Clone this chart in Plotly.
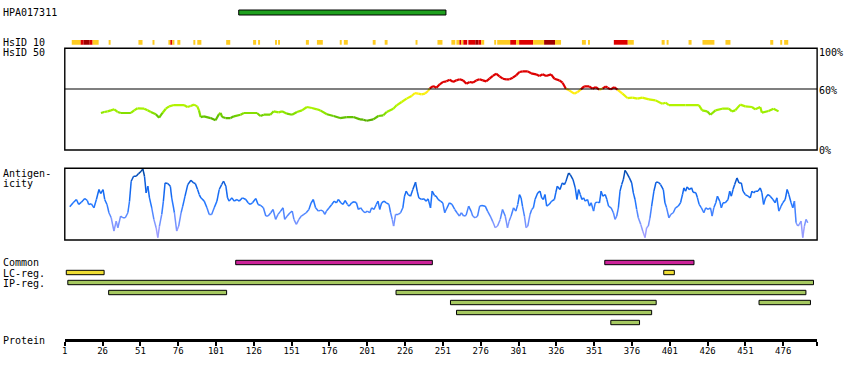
import plotly.graph_objects as go

W, H = 850, 380
PROTEIN_END = 498.4

# ---------------- data ----------------
hpa_start, hpa_end = 116, 253

hsid10_start = [5.6, 11.5, 13.5, 17.5, 19.4, 30.0, 49.7, 59.0, 69.5, 70.8, 72.1, 75.4, 86.0, 88.6,
                107.7, 125.5, 128.8, 140.0, 142.0, 160.4, 167.7, 182.8, 185.5, 204.6, 212.5, 232.9,
                247.4, 256.6, 259.9, 261.9, 263.2, 264.5, 267.8, 272.4, 274.4, 276.4, 284.9, 286.9,
                295.5, 299.4, 301.4, 310.6, 317.9, 325.1, 342.9, 346.9, 364.0, 373.2, 395.6, 398.9,
                413.4, 422.6, 437.8, 467.4, 474.0, 476.6]
hsid10_end = [11.5, 13.5, 17.5, 19.4, 23.4, 31.3, 52.4, 60.3, 70.8, 72.1, 73.5, 77.4, 87.3, 91.3,
              110.4, 127.5, 130.1, 141.3, 143.3, 162.4, 171.6, 184.1, 188.1, 206.5, 214.4, 234.2,
              250.7, 259.2, 261.9, 263.2, 264.5, 267.1, 272.4, 274.4, 276.4, 278.3, 286.2, 295.5,
              299.4, 301.4, 310.6, 317.9, 325.1, 329.1, 345.5, 348.2, 373.2, 377.2, 397.6, 400.2,
              415.4, 430.5, 441.1, 469.4, 475.3, 479.3]
hsid10_level = [1, 2, 3, 2, 1, 1, 1, 1, 1, 2, 1,
                1, 1, 1, 1, 1, 1, 1, 1, 1, 1, 1, 1, 1, 1, 1, 1, 1, 1,
                2, 1, 2, 2, 3, 2, 1, 1, 1, 2, 1, 2, 1, 3, 1,
                1, 1, 2, 1, 1, 1, 1, 1, 1, 1, 1, 1]

hsid50_pos = [24.9, 27.1, 29.3, 31.5, 33.7, 35.9, 38.1, 44.7, 46.9, 49.1, 53.5, 55.7, 57.9, 61.2,
              63.4, 65.6, 67.8, 70.0, 73.2, 79.8, 82.0, 84.2, 86.4, 88.6, 89.7, 90.8, 93.0, 97.4,
              100.7, 102.9, 104.0, 105.1, 107.3, 110.6, 112.8, 117.2, 119.4, 128.1, 130.3, 132.5,
              136.9, 139.1, 142.4, 144.6, 147.9, 151.2, 154.5, 157.8, 161.1, 164.4, 167.7, 169.9,
              174.3, 178.7, 183.0, 187.4, 191.8, 196.2, 198.4, 200.6, 205.0, 208.3, 211.6, 213.8,
              218.2, 220.4, 223.7, 227.0, 230.3, 232.5, 234.7, 236.9, 239.1, 241.2, 242.3, 244.5,
              246.7, 248.9, 251.1, 253.3, 255.5, 257.7, 259.9, 262.1, 264.3, 266.5, 268.7, 270.9,
              273.1, 275.2, 277.4, 279.6, 281.8, 284.0, 286.2, 288.4, 290.6, 292.8, 295.0, 297.2,
              299.4, 301.6, 303.8, 307.1, 309.3, 312.6, 314.8, 317.0, 319.2, 322.5, 324.7, 328.0,
              330.1, 332.3, 334.5, 337.8, 340.0, 342.2, 344.4, 347.7, 349.9, 352.1, 354.3, 356.5,
              358.7, 359.8, 362.0, 364.2, 366.4, 369.7, 373.0, 376.3, 379.6, 382.8, 387.2, 391.6,
              396.0, 398.2, 400.4, 411.4, 420.2, 422.4, 425.7, 427.9, 431.2, 435.6, 440.0, 442.1,
              444.3, 447.6, 450.9, 455.3, 457.5, 460.8, 461.9, 466.3, 469.6, 472.9]
hsid50_val = [36.4, 37.4, 38.0, 39.0, 40.0, 37.4, 36.4, 36.4, 39.0, 41.0, 40.6, 39.0, 37.4, 35.1,
              31.8, 36.4, 40.6, 42.9, 44.2, 44.2, 42.3, 43.3, 44.6, 42.9, 39.0, 32.4, 33.1, 31.4,
              29.2, 35.1, 36.4, 32.4, 31.4, 31.4, 33.1, 34.7, 36.4, 36.4, 33.4, 34.7,
              34.7, 38.0, 37.0, 38.0, 35.7, 34.7, 37.4, 39.0, 42.3, 41.3, 40.0, 39.0,
              35.1, 33.4, 31.4, 32.4, 32.4, 30.1, 29.8, 28.8, 30.1, 33.4, 34.1, 37.4,
              40.6, 43.9, 47.2, 50.5, 53.1, 56.0, 55.4, 54.7, 55.4, 58.0, 60.6, 62.9,
              61.3, 64.6, 66.9, 67.5, 69.1, 66.9, 68.5, 69.5, 68.5, 65.2, 66.9, 66.2,
              68.5, 69.5, 68.5, 67.5, 70.1, 72.8, 75.0, 72.4, 70.1, 69.5, 69.5, 71.1,
              73.4, 76.7, 77.3, 77.3, 75.4, 74.4, 72.8, 74.4, 72.8, 74.4, 70.1, 68.5,
              66.2, 60.3, 58.7, 55.4, 57.0, 59.6, 62.6, 62.6, 60.3, 61.9, 59.3, 60.3,
              62.6, 61.3, 59.6, 61.9, 59.3, 55.4, 51.1, 51.5, 50.5, 51.5, 49.8, 48.8,
              45.5, 46.5, 44.2, 44.2, 44.2, 39.0, 38.0, 34.7, 39.0, 40.6, 40.6, 38.0,
              39.0, 44.6, 42.9, 42.3, 40.0, 42.3, 36.7, 38.3, 40.6, 38.0]

antigen_pos = [4.3, 6.5, 8.7, 10.2, 12.0, 14.2, 15.9, 16.8, 18.6, 20.3, 21.9, 23.6, 24.7, 26.3,
               27.4, 28.9, 30.2, 31.7, 33.5, 35.0, 36.1, 37.9, 39.4, 41.0, 42.7, 43.8, 44.9, 46.5,
               48.2, 49.8, 51.5, 52.6, 53.7, 54.8, 55.9, 57.0, 58.5, 59.9, 61.4, 62.5, 63.6, 65.1,
               66.2, 67.3, 69.1, 70.8, 71.7, 73.5, 75.0, 76.3, 77.9, 79.0, 80.5, 82.3, 84.4, 86.2,
               87.3, 88.8, 89.9, 91.0, 93.2, 95.0, 96.5, 98.1, 99.8, 101.6, 103.1, 104.7, 106.0,
               107.5, 108.6, 109.7, 111.5, 113.0, 114.8, 116.3, 118.5, 120.7, 122.2, 123.5, 125.1,
               127.3, 128.8, 130.6, 132.3, 133.9, 135.4, 137.2, 138.7, 140.4, 142.0, 143.7, 145.3,
               146.4, 148.1, 149.9, 151.4, 152.5, 154.1, 155.8, 157.4, 159.1, 160.6, 162.4, 163.9,
               165.3, 166.8, 168.6,
               170.3, 171.8, 172.9, 174.0, 175.8, 177.5, 179.1, 180.6, 181.9, 183.5, 185.0, 186.3,
               187.9, 189.0, 190.7, 192.3, 193.8, 195.1, 196.6, 198.2, 199.5, 201.0, 202.6, 203.9,
               205.4, 207.0, 208.1, 209.2, 210.5, 212.0, 213.6, 215.3, 216.4, 217.5, 218.4, 219.7,
               221.5, 223.0, 224.5, 225.6, 226.7, 228.0, 229.6, 231.1, 232.9, 234.0, 235.1, 236.8,
               238.4, 239.9, 241.2, 242.8, 243.9, 245.4, 246.5, 247.8, 249.4, 250.9, 252.2, 253.7,
               255.3, 257.0, 258.8, 260.3, 261.9, 263.2, 264.7, 266.3, 268.0, 269.6, 270.7, 272.4,
               273.9, 275.3, 276.8, 279.0, 280.5, 282.3, 283.8, 285.6, 287.1, 288.9, 290.4, 292.2,
               293.7, 294.8, 296.1, 297.7, 299.2, 300.5, 301.6, 302.7, 303.6, 304.9, 306.0, 307.1,
               308.6, 309.7, 310.8, 311.9, 313.7, 315.2, 316.3, 317.4, 318.5, 319.6, 321.2, 322.9,
               324.7, 325.6, 326.6, 328.4, 329.9, 331.3, 332.4,
               333.0, 334.1, 335.2, 337.0, 338.5, 339.6, 340.7, 341.8, 342.9, 344.0, 345.1, 346.6,
               347.9, 349.0, 350.6, 351.7, 353.2, 354.5, 355.6, 356.7, 358.3, 359.4, 360.5, 362.2,
               363.7, 364.8, 365.9, 367.0, 368.1, 369.2, 370.3, 371.4, 372.5, 374.3, 375.8, 376.9,
               378.0, 379.1, 380.2, 381.8, 383.1, 384.6, 385.7, 386.8, 387.9, 389.0, 390.5, 391.9,
               393.4, 394.9, 396.7, 397.8, 398.9, 400.4, 401.7, 403.3, 404.8, 406.6, 408.1, 409.4,
               410.3, 411.4, 412.5, 413.8, 415.4, 416.4, 418.2, 419.3, 420.4, 421.9, 423.5, 424.8,
               426.3, 427.9, 429.0, 430.1, 431.4, 432.5, 434.0, 435.1, 436.2, 437.7, 439.5, 440.6,
               441.7, 442.8, 443.9, 445.4, 446.8, 448.3, 449.4, 450.9, 452.7, 454.2, 455.3, 456.4,
               457.7, 459.3, 460.8, 461.9, 463.0, 464.3, 465.9, 467.4, 469.2, 470.7, 471.8, 473.1,
               474.6, 475.7, 477.3, 478.6, 479.7, 481.2, 482.3, 483.4, 484.5, 485.6, 486.7, 487.8,
               488.9, 490.0, 491.1, 492.2]
antigen_val = [46.3, 51.9, 56.5, 49.6, 52.8, 57.9, 55.1, 49.6, 50.5, 44.9, 56.5, 70.4, 64.8, 70.4,
               56.5, 49.6, 38.0, 31.0, 12.5, 26.4, 17.1, 33.4, 31.0, 31.0, 38.0, 54.2, 82.0, 88.9,
               88.9, 92.6, 95.9, 99.1, 88.9, 65.8, 75.0, 58.8, 44.9, 28.7, 17.1, 3.3, 19.5, 35.7,
               54.2, 79.6, 78.7, 75.0, 58.8, 38.0, 12.5, 19.5, 38.0, 47.2, 61.1, 77.3, 83.4, 79.6,
               78.7, 70.4, 63.4, 58.8, 54.2, 44.9, 35.7, 35.7, 44.9, 54.2, 70.4, 77.3, 82.0,
               75.0, 58.8, 54.2, 58.8, 54.2, 56.5, 54.2, 58.8, 56.5, 51.9, 49.6, 51.9,
               57.9, 49.6, 48.2, 44.9, 33.4, 33.4, 38.0, 42.6, 28.7, 35.7, 40.3, 44.9,
               28.7, 33.4, 38.0, 40.3, 28.7, 21.8, 28.7, 33.4, 35.7, 38.0, 42.6, 51.9,
               56.5, 44.9, 40.3,
               41.7, 40.3, 35.7, 40.3, 44.9, 49.6, 54.2, 51.9, 56.5, 51.9, 49.6, 55.1,
               49.6, 47.2, 51.9, 53.3, 51.9, 42.6, 44.9, 40.3, 38.0, 40.3, 38.0, 44.9,
               42.6, 49.6, 54.2, 42.6, 51.9, 54.2, 51.9, 49.6, 38.0, 28.7, 19.5, 35.7,
               35.7, 38.0, 44.9, 61.1, 68.1, 63.4, 61.1, 70.4, 80.6, 68.1, 58.8, 56.5,
               57.4, 54.2, 57.4, 44.9, 68.1, 62.1, 61.1, 56.5, 54.2, 51.9, 38.0, 44.9,
               51.9, 49.6, 42.6, 38.0, 33.4, 38.0, 33.4, 34.3, 47.2, 40.3, 33.4, 31.0,
               33.4, 47.2, 48.2, 47.2, 40.3, 33.4, 26.4, 17.1, 19.5, 28.7, 42.6, 33.4,
               17.1, 26.4, 33.4, 44.9, 40.3, 49.6, 63.4, 58.8, 47.2, 33.4, 17.1, 19.5,
               35.7, 42.6, 44.9, 56.5, 65.8, 68.1, 58.8, 56.5, 63.4, 47.2, 49.6, 54.2,
               56.5, 65.8, 75.0, 70.4, 79.6, 77.3, 82.0,
               86.6, 93.5, 91.2, 84.3, 72.7, 56.5, 70.4, 63.4, 56.5, 58.8, 54.2, 56.5,
               47.2, 51.9, 40.3, 51.9, 52.8, 51.9, 68.1, 61.1, 63.4, 56.5, 47.2, 44.9,
               38.0, 28.7, 33.4, 44.9, 68.1, 77.3, 84.3, 97.2, 93.5, 86.6, 79.6, 65.8,
               56.5, 42.6, 31.0, 21.8, 12.5, 3.3, 17.1, 19.5, 31.0, 47.2, 68.1, 80.6,
               80.6, 77.3, 70.4, 51.9, 44.9, 31.0, 35.7, 38.0, 44.9, 47.2, 51.9, 63.4,
               72.7, 68.1, 74.1, 70.4, 72.7, 66.7, 65.8, 58.8, 49.6, 44.9, 38.0, 44.9,
               42.6, 44.9, 33.4, 44.9, 51.9, 61.1, 54.2, 44.9, 51.9, 51.9, 56.5, 68.1,
               61.1, 70.4, 77.3, 86.6, 79.6, 79.6, 68.1, 63.4, 61.1, 58.8, 68.1, 65.8,
               68.1, 68.1, 72.7, 65.8, 49.6, 58.8, 63.4, 61.1, 56.5, 51.9, 58.8, 40.3,
               47.2, 51.9, 56.5, 70.4, 63.4, 51.9, 44.9, 54.2, 24.1, 19.5, 21.8, 26.4,
               3.3, 19.5, 28.7, 24.1]

common_start = [114, 358]
common_end = [244, 417]
lc_start = [2, 397]
lc_end = [27, 404]
ip_start = [3, 30, 220, 256, 260, 362, 460]
ip_end = [496, 108, 491, 392, 389, 381, 494]

tick_vals = [1, 26, 51, 76, 101, 126, 151, 176, 201, 226, 251, 276, 301, 326, 351, 376, 401, 426, 451, 476]
tick_end = 498

# ---------------- helpers ----------------
FONT = "DejaVu Sans Mono"


def py(px):
    return 1 - px / H


def interp_color(v, stops):
    if v <= stops[0][0]:
        c = stops[0][1]
    elif v >= stops[-1][0]:
        c = stops[-1][1]
    else:
        for (a, ca), (b, cb) in zip(stops, stops[1:]):
            if a <= v <= b:
                t = (v - a) / (b - a)
                c = tuple(int(round(ca[i] + (cb[i] - ca[i]) * t)) for i in range(3))
                break
    return "#%02x%02x%02x" % c


HS_STOPS = [(28, (0x55, 0xaa, 0x00)), (33, (0x66, 0xc8, 0x00)), (38, (0x99, 0xee, 0x00)),
            (46, (0xbb, 0xf5, 0x00)), (52, (0xdd, 0xf5, 0x00)), (56, (0xff, 0xf0, 0x10)),
            (60, (0xff, 0xe0, 0x20))]
AG_STOPS = [(0, (0xb0, 0xa0, 0xff)), (20, (0x88, 0x99, 0xff)), (35, (0x55, 0x88, 0xff)),
            (50, (0x22, 0x77, 0xff)), (70, (0x10, 0x66, 0xee)), (85, (0x08, 0x55, 0xcc)),
            (100, (0x00, 0x44, 0x99))]


def hs_color(v):
    if v >= 60:
        return "#dd0000"
    return interp_color(round(v), HS_STOPS)


def ag_color(v):
    return interp_color(round(v / 2) * 2, AG_STOPS)


def colored_line(xs, ys, colorfn, yaxis, width):
    groups = {}
    for i in range(len(xs) - 1):
        c = colorfn((ys[i] + ys[i + 1]) / 2)
        gx, gy = groups.setdefault(c, ([], []))
        gx.extend([xs[i], xs[i + 1], None])
        gy.extend([ys[i], ys[i + 1], None])
    out = []
    for c, (gx, gy) in groups.items():
        out.append(go.Scatter(x=gx, y=gy, mode="lines", xaxis="x", yaxis=yaxis,
                              line=dict(color=c, width=width), hoverinfo="skip"))
    return out


fig = go.Figure()
for t in colored_line(hsid50_pos, hsid50_val, hs_color, "y", 2.2):
    fig.add_trace(t)
for t in colored_line(antigen_pos, antigen_val, ag_color, "y2", 1.5):
    fig.add_trace(t)

shapes = []
# panel boxes
for yd in ("y domain", "y2 domain"):
    shapes.append(dict(type="rect", xref="x domain", yref=yd, x0=0, x1=1, y0=0, y1=1,
                       line=dict(color="black", width=1.4)))
shapes.append(dict(type="line", xref="x domain", yref="y", x0=0, x1=1, y0=60, y1=60,
                   line=dict(color="black", width=1.2)))

# HPA antigen bar
shapes.append(dict(type="rect", xref="x", yref="paper", x0=hpa_start, x1=hpa_end,
                   y0=py(15), y1=py(10), fillcolor="#1ea01e", line=dict(color="black", width=1)))

# HsID 10 track
lvl_col = {1: "#ffcc22", 2: "#dd0000", 3: "#a00000"}
for s, e, l in zip(hsid10_start, hsid10_end, hsid10_level):
    shapes.append(dict(type="rect", xref="x", yref="paper", x0=s, x1=e, y0=py(44.7), y1=py(40),
                       fillcolor=lvl_col[l], line=dict(width=0)))


def bar(s, e, top, color):
    shapes.append(dict(type="rect", xref="x", yref="paper", x0=s, x1=e,
                       y0=py(top + 4.4), y1=py(top), fillcolor=color,
                       line=dict(color="black", width=1)))


for s, e in zip(common_start, common_end):
    bar(s, e, 260.3, "#cc2299")
for s, e in zip(lc_start, lc_end):
    bar(s, e, 270.3, "#eedd33")

# pack IP regions into rows (first fit by start)
rows_end = []
for s, e in sorted(zip(ip_start, ip_end)):
    for k, last in enumerate(rows_end):
        if s > last:
            rows_end[k] = e
            break
    else:
        k = len(rows_end)
        rows_end.append(e)
    bar(s, e, 280.3 + 10 * k, "#a5c860")

ann = []


def label(text, x, yc, anchor="left"):
    ann.append(dict(text=text, xref="paper", yref="paper", x=x / W, y=py(yc), xanchor=anchor,
                    yanchor="middle", showarrow=False, font=dict(family=FONT, size=10, color="black")))


for txt, yc in [("HPA017311", 12.7), ("HsID 10", 42.5), ("HsID 50", 52.7), ("Antigen-", 173),
                ("icity", 183), ("Common", 262.5), ("LC-reg.", 273), ("IP-reg.", 283),
                ("Protein", 340)]:
    label(txt, -2.5, yc)
for txt, yc in [("100%", 52.7), ("60%", 90.8), ("0%", 150.3)]:
    label(txt, 816.5, yc)

fig.update_layout(
    width=W, height=H, margin=dict(l=0, r=0, t=0, b=0),
    paper_bgcolor="white", plot_bgcolor="white", showlegend=False,
    shapes=shapes, annotations=ann,
    xaxis=dict(domain=[62 / W, 817 / W], range=[1, PROTEIN_END], anchor="free",
               position=py(339.6), showline=True, linewidth=3, linecolor="black",
               ticks="outside", ticklen=4, tickwidth=2, tickcolor="black",
               ticklabelstandoff=-2,
               tickvals=tick_vals + [tick_end], ticktext=[str(v) for v in tick_vals] + [""],
               tickfont=dict(family=FONT, size=9, color="black"),
               showgrid=False, zeroline=False),
    yaxis=dict(domain=[py(150), py(48.3)], range=[0, 100], visible=False, anchor="x",
               showgrid=False, zeroline=False),
    yaxis2=dict(domain=[py(240), py(168.3)], range=[0, 100], visible=False, anchor="x",
                showgrid=False, zeroline=False),
)

fig.write_html("out.html", config={"displayModeBar": False},
               post_script="document.body.style.margin='0';document.body.style.overflow='hidden';")
